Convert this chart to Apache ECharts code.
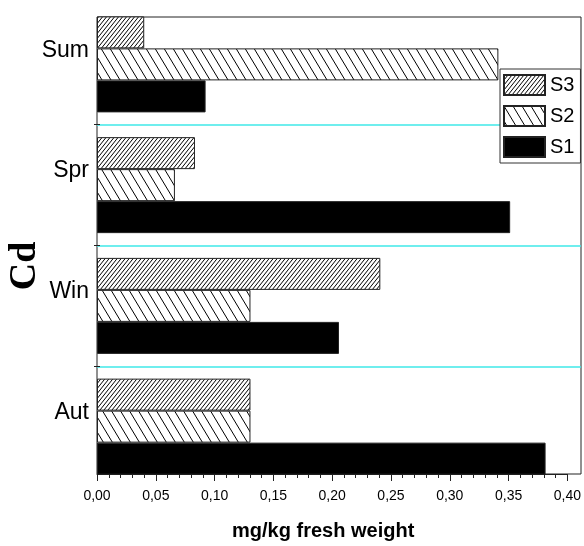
<!DOCTYPE html>
<html>
<head>
<meta charset="utf-8">
<script src="https://cdn.jsdelivr.net/npm/echarts@6/dist/echarts.min.js"></script>
<style>
html,body{margin:0;padding:0;background:#fff;}
#chart{width:584px;height:546px;}
</style>
</head>
<body>
<div id="chart"></div>
<script>
// ---- data ----
const categories = ['Aut', 'Win', 'Spr', 'Sum'];
const seriesNames = ['S3', 'S2', 'S1'];
const s3Values = [0.13, 0.24, 0.083, 0.04];
const s2Values = [0.13, 0.13, 0.066, 0.34];
const s1Values = [0.38, 0.205, 0.35, 0.092];
const xTickLabels = ['0,00', '0,05', '0,10', '0,15', '0,20', '0,25', '0,30', '0,35', '0,40'];
const xTitle = 'mg/kg fresh weight';
const yTitle = 'Cd';

// ---- hatch patterns ----
function hatch(w, h, dir, lw) {
  const c = document.createElement('canvas');
  c.width = w; c.height = h;
  const g = c.getContext('2d');
  g.fillStyle = '#fff';
  g.fillRect(0, 0, w, h);
  g.strokeStyle = '#000';
  g.lineWidth = lw;
  for (let k = -1; k <= 1; k++) {
    g.beginPath();
    if (dir === 'fwd') { // "/"
      g.moveTo(k * w, h); g.lineTo(k * w + w, 0);
    } else { // "\"
      g.moveTo(k * w, 0); g.lineTo(k * w + w, h);
    }
    g.stroke();
  }
  return { image: c, repeat: 'repeat' };
}
const patS3 = hatch(4, 5, 'fwd', 1);
const patS2 = hatch(9, 15, 'back', 1);

const chart = echarts.init(document.getElementById('chart'), null, { renderer: 'canvas' });

const barBase = {
  type: 'bar',
  xAxisIndex: 0,
  yAxisIndex: 0,
  barWidth: 32,
  barGap: '0%',
  animation: false
};

const tickStyle = { color: '#222', width: 1 };

const option = {
  animation: false,
  backgroundColor: '#fff',
  grid: [
    { left: 97, top: 4, width: 484, height: 483, show: false },
    { left: 97, top: 17, width: 472, height: 457, show: false },
    { left: 97, top: 17, width: 484, height: 457, show: true, borderColor: '#222', borderWidth: 1, backgroundColor: 'transparent' },
    { left: 97, top: 124.7, width: 484, height: 241.3, show: false }
  ],
  xAxis: [
    { type: 'value', gridIndex: 0, min: 0, max: 0.41, show: false },
    {
      type: 'value', gridIndex: 1, min: 0, max: 0.40, interval: 0.05,
      axisLine: { show: true, lineStyle: tickStyle },
      axisTick: { show: true, length: 7, inside: false, lineStyle: tickStyle },
      minorTick: { show: true, splitNumber: 5, length: 4, lineStyle: tickStyle },
      splitLine: { show: false },
      axisLabel: {
        margin: 15, fontSize: 14, color: '#000', fontFamily: 'Liberation Sans, Arial, sans-serif',
        formatter: function (v) { return xTickLabels[Math.round(v / 0.05)]; }
      },
      name: xTitle,
      nameLocation: 'middle',
      nameGap: 47,
      nameTextStyle: { fontSize: 20, fontWeight: 'bold', color: '#000', fontFamily: 'Liberation Sans, Arial, sans-serif', padding: [0, 18, 0, 0] }
    },
    { type: 'value', gridIndex: 2, min: 0, max: 1, show: false },
    { type: 'value', gridIndex: 3, min: 0, max: 1, show: false }
  ],
  yAxis: [
    {
      type: 'category', gridIndex: 0, data: categories,
      axisLine: { show: false },
      axisTick: { show: false },
      splitLine: { show: true, showMinLine: false, showMaxLine: false, lineStyle: { color: '#3fe8e8', width: 1.5 } },
      axisLabel: {
        margin: 8, fontSize: 23, color: '#000', fontFamily: 'Liberation Sans, Arial, sans-serif',
        verticalAlign: 'bottom', lineHeight: 28
      }
    },
    { type: 'value', gridIndex: 1, min: 0, max: 1, show: false },
    { type: 'value', gridIndex: 2, min: 0, max: 1, show: false },
    {
      type: 'category', gridIndex: 3, data: ['', ''], position: 'left',
      axisLine: { show: false }, axisLabel: { show: false }, splitLine: { show: false },
      axisTick: { show: true, length: 3, inside: false, lineStyle: tickStyle }
    },
    {
      type: 'category', gridIndex: 3, data: ['', ''], position: 'left', offset: 0,
      axisLine: { show: false }, axisLabel: { show: false }, splitLine: { show: false },
      axisTick: { show: true, length: 3, inside: true, lineStyle: tickStyle }
    }
  ],
  legend: {
    orient: 'vertical',
    left: 500,
    top: 69,
    data: seriesNames,
    icon: 'rect',
    itemWidth: 41,
    itemHeight: 20,
    itemGap: 9,
    padding: [5, 6, 5, 3],
    borderColor: '#333',
    borderWidth: 1,
    backgroundColor: '#fff',
    textStyle: { fontSize: 20, color: '#000', fontFamily: 'Liberation Sans, Arial, sans-serif' }
  },
  graphic: [
    {
      type: 'text',
      x: 25.5, y: 266,
      rotation: Math.PI / 2,
      style: {
        text: yTitle,
        font: 'bold 38px "Liberation Serif", "Times New Roman", serif',
        fill: '#000',
        align: 'center',
        verticalAlign: 'middle'
      }
    }
  ],
  series: [
    Object.assign({}, barBase, { name: 'S3', data: s3Values, itemStyle: { color: patS3, borderColor: '#222', borderWidth: 1 } }),
    Object.assign({}, barBase, { name: 'S2', data: s2Values, itemStyle: { color: patS2, borderColor: '#222', borderWidth: 1 } }),
    Object.assign({}, barBase, { name: 'S1', data: s1Values, itemStyle: { color: '#000', borderColor: '#222', borderWidth: 1 } })
  ]
};

chart.setOption(option);
</script>
</body>
</html>
